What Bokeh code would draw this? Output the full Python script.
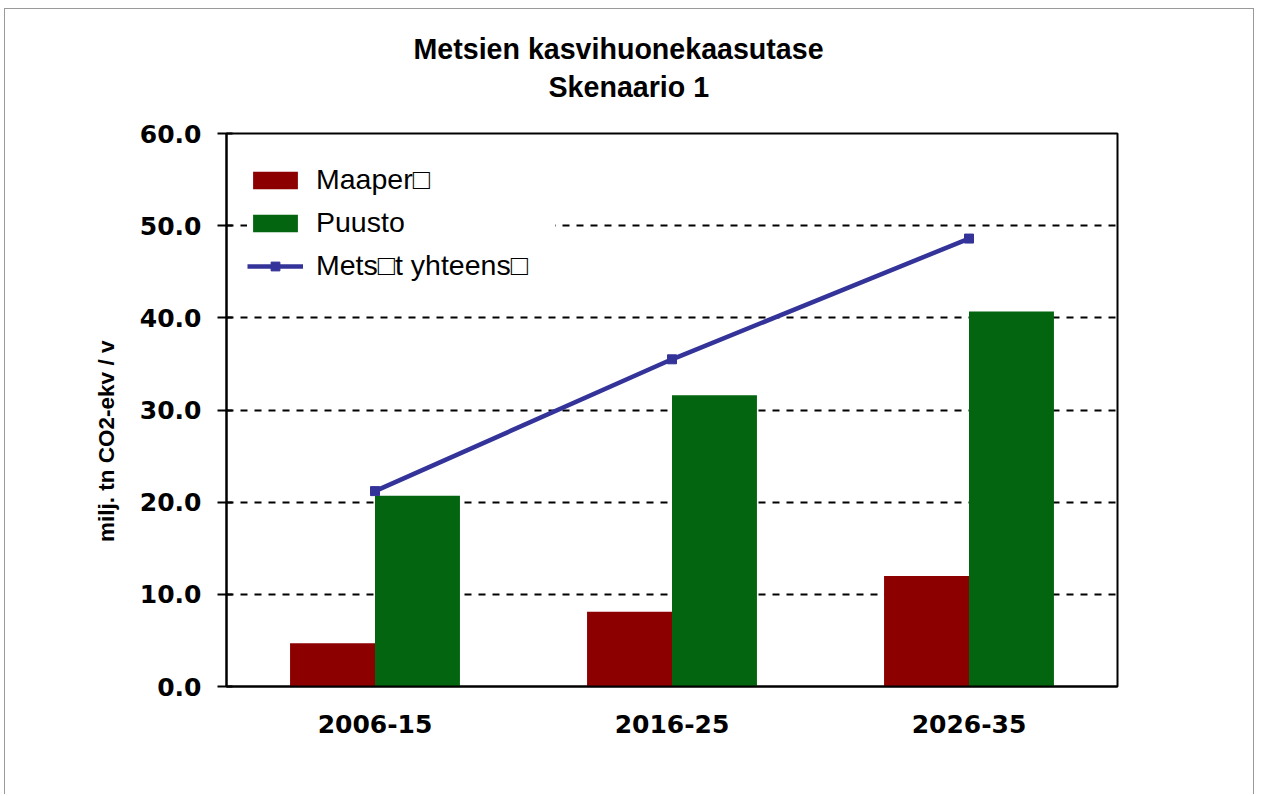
from bokeh.plotting import figure
from bokeh.models import FactorRange, Range1d, Legend, LegendItem, SingleIntervalTicker, Title
from bokeh.transform import dodge
from bokeh.embed import file_html
from bokeh.resources import INLINE
from bokeh.models import ColumnDataSource, CustomJSTickFormatter

categories = ["2006-15", "2016-25", "2026-35"]
maapera = [4.7, 8.1, 12.0]
puusto = [20.7, 31.6, 40.7]
yhteensa = [21.2, 35.5, 48.6]
labels = ["Maaper\u25a1", "Puusto", "Mets\u25a1t yhteens\u25a1"]
title_lines = ["Metsien kasvihuonekaasutase", "Skenaario 1"]
y_label = "milj. tn CO2-ekv / v"

src = ColumnDataSource(dict(cat=categories, maa=maapera, puu=puusto, tot=yhteensa))

p = figure(x_range=FactorRange(*categories), y_range=Range1d(0, 60),
           width=1250, height=786, output_backend="svg", toolbar_location=None,
           min_border_left=222, min_border_right=137, min_border_top=125, min_border_bottom=108,
           frame_width=891, frame_height=553)
# outer chart border (top, left, right) drawn by the page background behind a transparent canvas
line = "linear-gradient(#9a9a9a, #9a9a9a)"
p.styles = {"margin-left": "4px", "margin-top": "0px",
            "background": (f"{line} 0 8px / 100% 1px no-repeat, "
                           f"{line} 0 8px / 1px 100% no-repeat, "
                           f"{line} 100% 8px / 1px 100% no-repeat, white")}
p.border_fill_alpha = 0
p.background_fill_color = "white"
p.title = None
p.outline_line_color = "black"
p.outline_line_width = 2

bw = 0.286
r1 = p.vbar(x=dodge("cat", -bw / 2, range=p.x_range), top="maa", width=bw, source=src,
            fill_color="#8C0000", line_color=None)
r2 = p.vbar(x=dodge("cat", bw / 2, range=p.x_range), top="puu", width=bw, source=src,
            fill_color="#03650F", line_color=None)
r3 = p.line(x="cat", y="tot", source=src, line_color="#333399", line_width=4.5)
r4 = p.scatter(x="cat", y="tot", source=src, marker="square", size=9,
               fill_color="#333399", line_color="#333399")

# axes
p.yaxis.ticker = SingleIntervalTicker(interval=10)
p.yaxis.formatter = CustomJSTickFormatter(code="return tick.toFixed(1);")
p.yaxis.major_tick_in = 6
p.yaxis.major_tick_out = 9
p.yaxis.minor_tick_line_color = None
p.yaxis.axis_line_width = 2
p.yaxis.major_tick_line_width = 2
p.yaxis.major_label_text_font = "DejaVu Sans"
p.yaxis.major_label_text_font_style = "bold"
p.yaxis.major_label_text_font_size = "25px"
p.yaxis.major_label_text_color = "black"
p.yaxis.major_label_standoff = 16
# trailing no-break spaces shift the label below the frame centre, as in the reference
p.yaxis.axis_label = y_label + "\u00a0" * 10
p.yaxis.axis_label_text_font = "Liberation Sans"
p.yaxis.axis_label_text_font_style = "bold"
p.yaxis.axis_label_text_font_size = "22.5px"
p.yaxis.axis_label_text_color = "black"
p.yaxis.axis_label_standoff = 18

p.xaxis.major_tick_line_color = None
p.xaxis.minor_tick_line_color = None
p.xaxis.axis_line_width = 2
p.xaxis.major_label_text_font = "DejaVu Sans"
p.xaxis.major_label_text_font_style = "bold"
p.xaxis.major_label_text_font_size = "25px"
p.xaxis.major_label_text_color = "black"
p.xaxis.major_label_standoff = 22

p.xgrid.grid_line_color = None
p.ygrid.grid_line_color = "black"
p.ygrid.grid_line_width = 2
p.ygrid.grid_line_dash = "7 7"

title_text = title_lines[0] + "\n" + "\u00a0" * 17 + title_lines[1]
p.add_layout(Title(text=title_text, align="left", offset=187, text_font="Liberation Sans",
                   text_font_style="bold", text_font_size="28.6px", text_color="black",
                   text_line_height=1.2, standoff=61), "above")

legend = Legend(items=[LegendItem(label=labels[0], renderers=[r1]),
                       LegendItem(label=labels[1], renderers=[r2]),
                       LegendItem(label=labels[2], renderers=[r3, r4])],
                location=(21, 404), glyph_width=56, glyph_height=22,
                label_text_font="Liberation Sans", label_text_font_size="28.5px",
                label_text_color="black",
                label_standoff=13, label_width=239, spacing=10, padding=10, margin=0,
                border_line_color=None, background_fill_color="white",
                background_fill_alpha=1.0)
p.add_layout(legend)

open("out.html", "w").write(file_html(p, INLINE))
